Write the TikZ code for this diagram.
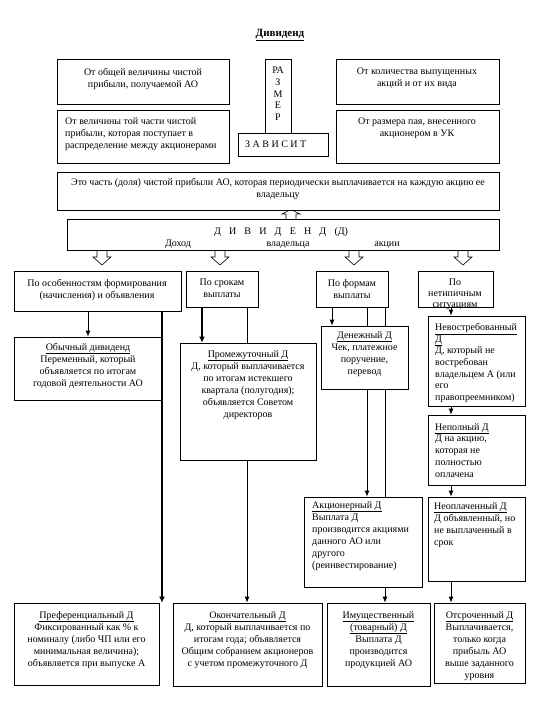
\documentclass[tikz,border=0pt]{standalone}
\usepackage{fontspec}
\setmainfont{Liberation Serif}
\usetikzlibrary{arrows.meta,fit,backgrounds}
\newcommand\gp{\hspace{8.2pt}}
\begin{document}
\begin{tikzpicture}[x=1pt,y=-1pt,
  box/.style={draw, line width=0.8pt, fill=white, inner sep=0pt},
  txt/.style={inner sep=0pt, font=\fontsize{10}{12}\selectfont, align=center, anchor=north},
  ltxt/.style={inner sep=0pt, font=\fontsize{10}{12}\selectfont, align=left, anchor=north west},
  conn/.style={line width=0.8pt, -{Latex[length=6pt,width=5pt]}},
  thickconn/.style={line width=2pt, -{Latex[length=6pt,width=6pt]}},
  blockarrow/.style={draw, line width=0.6pt, fill=white},
]
\useasboundingbox (0,0) rectangle (540,720);

% title
\node[font=\fontsize{11}{13}\selectfont\bfseries, inner sep=0pt, anchor=base] (title) at (280,36) {\underline{Дивиденд}};

% top area
\node[box, fit={(57,59) (229,104)}] (t1) {};
\node[txt] at (143,68) {От общей величины чистой\\прибыли, получаемой АО};
\node[box, fit={(57,110) (229,163)}] (t2) {};
\node[ltxt] at (65,117) {От величины той части чистой\\прибыли, которая поступает в\\распределение между акционерами};
\node[box, fit={(265,59) (291,133)}] (razm) {};
\node[txt, font=\fontsize{10}{11.7}\selectfont] at (278,67) {РА\\З\\М\\Е\\Р};
\node[box, fit={(238,133) (328,156)}] (zav) {};
\node[inner sep=0pt, font=\fontsize{10}{12}\selectfont, anchor=west] at (245,144) {З А В И С И Т};
\node[box, fit={(336,59) (499,104)}] (t3) {};
\node[txt] at (417,68) {От количества выпущенных\\акций и от их вида};
\node[box, fit={(336,110) (499,163)}] (t4) {};
\node[txt] at (417,118) {От размера пая, внесенного\\акционером в УК};
\node[box, fit={(57,172) (499,210)}] (wide) {};
\node[txt] at (278,178) {Это часть (доля) чистой прибыли АО, которая периодически выплачивается на каждую акцию ее\\владельцу};

% dividend box
\node[box, fit={(67,219) (499,250)}] (div) {};
\node[inner sep=0pt, font=\fontsize{10}{12}\selectfont, anchor=base] at (281,234) {Д\gp И\gp В\gp И\gp Д\gp Е\gp Н\gp Д\gp (Д)};
\node[inner sep=0pt, font=\fontsize{10}{12}\selectfont, anchor=base] at (178,246.5) {Доход};
\node[inner sep=0pt, font=\fontsize{10}{12}\selectfont, anchor=base] at (288,246.5) {владельца};
\node[inner sep=0pt, font=\fontsize{10}{12}\selectfont, anchor=base] at (387,246.5) {акции};

% level 2
\node[box, fit={(14,271) (181,311)}] (A) {};
\node[txt] at (97,279) {По особенностям формирования\\(начисления) и объявления};
\node[box, fit={(186,271) (258,307)}] (B) {};
\node[txt] at (222,279) {По срокам\\выплаты};
\node[box, fit={(316,271) (388,307)}] (C) {};
\node[txt] at (352,279) {По формам\\выплаты};
\node[box, fit={(418,271) (493,307)}] (D) {};
\node[txt, font=\fontsize{10}{11}\selectfont] at (455,279) {По\\нетипичным\\ситуациям};

% level 3
\node[box, fit={(14,337) (161,400)}] (ob) {};
\node[txt] at (88,343) {\underline{Обычный дивиденд}\\Переменный, который\\объявляется по итогам\\годовой деятельности АО};
\node[box, fit={(180,343) (316,460)}] (pr) {};
\node[txt] at (248,350) {\underline{Промежуточный Д}\\Д, который выплачивается\\по итогам истекшего\\квартала (полугодия);\\объявляется Советом\\директоров};
\node[box, fit={(321,326) (408,389)}] (den) {};
\node[txt] at (364.5,331) {\underline{Денежный Д}\\Чек, платежное\\поручение,\\перевод};
\node[box, fit={(428,316) (525,406)}] (nev) {};
\node[ltxt, font=\fontsize{10}{11.7}\selectfont] at (435,323) {\underline{Невостребованный}\\\underline{Д}\\Д, который не\\востребован\\владельцем А (или\\его\\правопреемником)};
\node[box, fit={(428,415) (525,485)}] (nep) {};
\node[ltxt, font=\fontsize{10}{11.8}\selectfont] at (435,423) {\underline{Неполный Д}\\Д на акцию,\\которая не\\полностью\\оплачена};
\node[box, fit={(304,497) (422,587)}] (akc) {};
\node[ltxt] at (312,501) {\underline{Акционерный Д}\\Выплата Д\\производится акциями\\данного АО или\\другого\\(реинвестирование)};
\node[box, fit={(428,497) (525,581)}] (neo) {};
\node[ltxt] at (434,502) {\underline{Неоплаченный Д}\\Д объявленный, но\\не выплаченный в\\срок};

% bottom row
\node[box, fit={(14,603) (159,685)}] (pref) {};
\node[txt] at (86.5,611) {\underline{Преференциальный Д}\\Фиксированный как \% к\\номиналу (либо ЧП или его\\минимальная величина);\\объявляется при выпуске А};
\node[box, fit={(173,603) (322,686)}] (oko) {};
\node[txt] at (247.5,611) {\underline{Окончательный Д}\\Д, который выплачивается по\\итогам года; объявляется\\Общим собранием акционеров\\с учетом промежуточного Д};
\node[box, fit={(327,603) (430,686)}] (imu) {};
\node[txt] at (378.5,611) {\underline{Имущественный}\\\underline{(товарный) Д}\\Выплата Д\\производится\\продукцией АО};
\node[box, fit={(434,603) (525,683)}] (ots) {};
\node[txt] at (479.5,611) {\underline{Отсроченный Д}\\Выплачивается,\\только когда\\прибыль АО\\выше заданного\\уровня};

% x positions of connectors
\coordinate (xA1) at (88,0);
\coordinate (xA2) at (162,0);
\coordinate (xB1) at (202,0);
\coordinate (xB2) at (247,0);
\coordinate (xC1) at (332,0);
\coordinate (xC2) at (367,0);
\coordinate (xC3) at (385,0);
\coordinate (xD) at (451,0);

\begin{pgfonlayer}{background}
  % block arrows
  \draw[blockarrow] (286,219) -- (286,214) -- (282,214) -- (291,209.5) -- (300,214) -- (296,214) -- (296,219);
  \foreach \c in {102,220,354,463}{
    \draw[blockarrow] ({\c-5},250) -- ({\c-5},257) -- ({\c-9},257) -- (\c,265) -- ({\c+9},257) -- ({\c+5},257) -- ({\c+5},250);
  }
  % connectors
  \draw[conn] (A.south -| xA1) -- (ob.north -| xA1);
  \draw[thickconn] (A.south -| xA2) -- (pref.north -| xA2);
  \draw[thickconn] (B.south -| xB1) -- (pr.north -| xB1);
  \draw[conn] (B.south -| xB2) -- (oko.north -| xB2);
  \draw[conn] (C.south -| xC1) -- (den.north -| xC1);
  \draw[conn] (C.south -| xC2) -- (akc.north -| xC2);
  \draw[conn] (C.south -| xC3) -- (imu.north -| xC3);
  \draw[conn] (D.south -| xD) -- (nev.north -| xD);
  \draw[conn] (nev.south -| xD) -- (nep.north -| xD);
  \draw[conn] (nep.south -| xD) -- (neo.north -| xD);
  \draw[conn] (neo.south -| xD) -- (ots.north -| xD);
\end{pgfonlayer}
\end{tikzpicture}
\end{document}
